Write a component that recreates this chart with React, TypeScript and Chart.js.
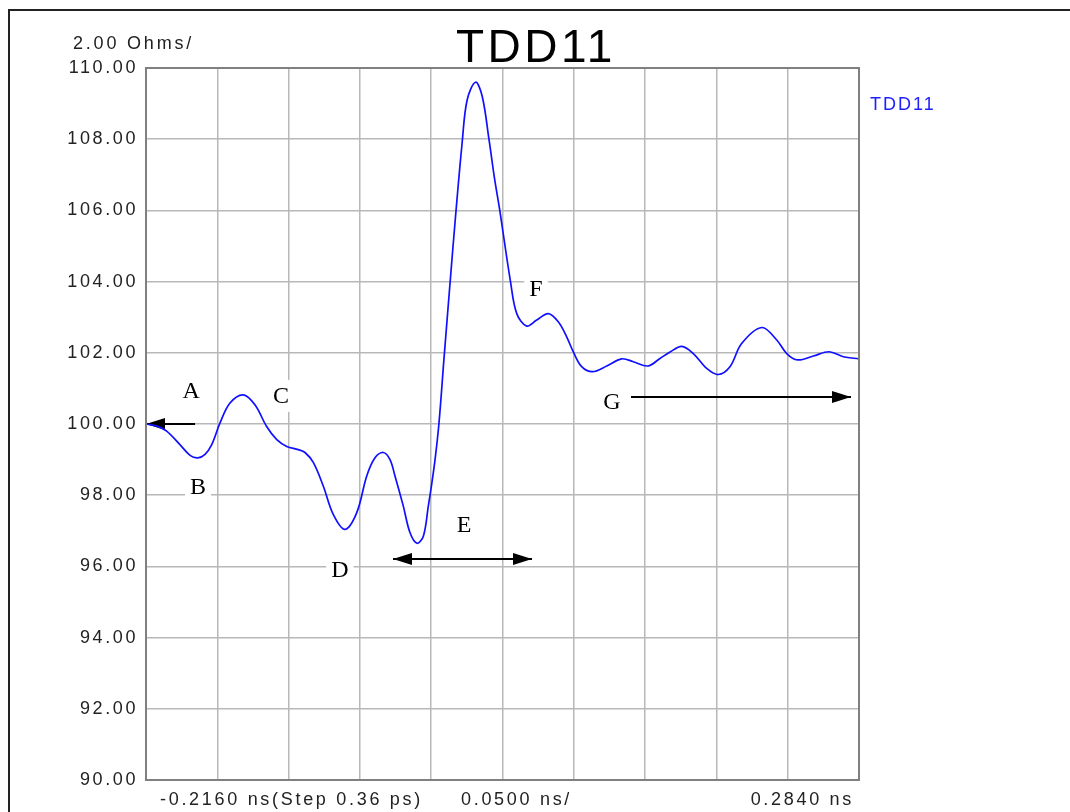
import React, { useEffect, useRef } from 'react';
import { Chart, registerables } from 'chart.js';

Chart.register(...registerables);

// ---- data (time in ns, impedance in Ohms) ----
const timeNs = [
  -0.216, -0.2083, -0.2015, -0.1922, -0.1851, -0.1797, -0.1746, -0.1699, -0.1641, -0.1571,
  -0.1478, -0.1396, -0.1314, -0.1243, -0.1173, -0.1092, -0.1045, -0.0987, -0.0917, -0.0847,
  -0.0765, -0.0682, -0.0612, -0.0554, -0.0496, -0.0449, -0.0414, -0.0356, -0.0309, -0.026,
  -0.0215, -0.018, -0.0157, -0.0133, -0.0106, -0.0071, -0.0025, 0.001, 0.0057, 0.0092,
  0.0151, 0.0198, 0.0245, 0.0284, 0.0319, 0.0396, 0.044, 0.051, 0.058,
  0.0661, 0.0731, 0.079, 0.0836, 0.0895, 0.0971, 0.1071, 0.1176, 0.1257, 0.136,
  0.1444, 0.1515, 0.1597, 0.1678, 0.1772, 0.1853, 0.1935, 0.2017, 0.2158, 0.2263,
  0.2333, 0.2409, 0.252, 0.263, 0.273, 0.284,
];
const impedanceOhm = [
  100.0, 99.94, 99.8, 99.42, 99.12, 99.05, 99.15, 99.42, 100.03, 100.59,
  100.82, 100.54, 99.93, 99.56, 99.37, 99.28, 99.2, 98.92, 98.26, 97.46,
  97.04, 97.51, 98.54, 99.05, 99.2, 99.0, 98.54, 97.7, 96.95, 96.65,
  96.85, 97.7, 98.3, 99.0, 100.0, 101.8, 104.1, 105.8, 107.9, 109.1,
  109.6, 109.2, 108.0, 106.9, 106.05, 104.0, 103.1, 102.75, 102.92,
  103.1, 102.87, 102.45, 102.03, 101.61, 101.47, 101.63, 101.83, 101.75, 101.63,
  101.84, 102.02, 102.18, 101.98, 101.56, 101.39, 101.61, 102.26, 102.71, 102.36,
  101.98, 101.8, 101.91, 102.03, 101.89, 101.83,
];

const Y_MIN = 90;
const Y_MAX = 110;
const Y_STEP = 2;
const X_START = -0.216;
const X_END = 0.284;
const X_STEP = 0.05;

const chartTitle = 'TDD11';
const seriesName = 'TDD11';
const yUnitLabel = '2.00 Ohms/';
const xFooterLabels = ['-0.2160 ns(Step 0.36 ps)', '0.0500 ns/', '0.2840 ns'];

// annotation letters (data coordinates)
const markerLetters = ['A', 'B', 'C', 'D', 'E', 'F', 'G'];
const markerTimeNs = [-0.1844, -0.1795, -0.1213, -0.08, 0.007, 0.0575, 0.1108];
const markerOhm = [100.93, 98.23, 100.79, 95.9, 97.16, 103.79, 100.62];

// annotation arrows (data coordinates)
const arrowStartNs = [-0.1816, -0.0428, 0.1241];
const arrowEndNs = [-0.216, 0.0547, 0.2784];
const arrowOhm = [100.0, 96.21, 100.76];
const arrowBothEnds = [false, true, false];

const SANS = '"Liberation Sans", Arial, sans-serif';
const SERIF = '"Liberation Serif", "Times New Roman", serif';

function arrowHead(ctx: CanvasRenderingContext2D, tipX: number, tipY: number, dir: number) {
  const len = 19;
  const half = 6;
  ctx.beginPath();
  ctx.moveTo(tipX, tipY);
  ctx.lineTo(tipX - dir * len, tipY - half);
  ctx.lineTo(tipX - dir * len, tipY + half);
  ctx.closePath();
  ctx.fill();
}

const decorPlugin = {
  id: 'tddDecor',
  beforeDraw(chart: any) {
    const ctx = chart.ctx as any;
    ctx.fillStyle = '#ffffff';
    ctx.fillRect(0, 0, chart.width, chart.height);
    ctx.letterSpacing = '2.6px';
  },
  beforeDatasetsDraw(chart: any) {
    const ctx = chart.ctx as any;
    const xs = chart.scales.x;
    const ys = chart.scales.y;
    ctx.save();
    ctx.letterSpacing = '0px';
    ctx.font = `24px ${SERIF}`;
    ctx.textAlign = 'center';
    ctx.textBaseline = 'middle';
    markerLetters.forEach((ch, i) => {
      const px = xs.getPixelForValue(markerTimeNs[i]);
      const py = ys.getPixelForValue(markerOhm[i]);
      const w = ctx.measureText(ch).width + 10;
      ctx.fillStyle = '#ffffff';
      ctx.fillRect(px - w / 2, py - 16, w, 32);
      ctx.fillStyle = '#000000';
      ctx.fillText(ch, px, py + 1);
    });
    ctx.strokeStyle = '#000000';
    ctx.fillStyle = '#000000';
    ctx.lineWidth = 2;
    arrowStartNs.forEach((s, i) => {
      const x1 = xs.getPixelForValue(s);
      const x2 = xs.getPixelForValue(arrowEndNs[i]);
      const y = ys.getPixelForValue(arrowOhm[i]);
      ctx.beginPath();
      ctx.moveTo(x1, y);
      ctx.lineTo(x2, y);
      ctx.stroke();
      const dir = x2 > x1 ? 1 : -1;
      arrowHead(ctx, x2, y, dir);
      if (arrowBothEnds[i]) arrowHead(ctx, x1, y, -dir);
    });
    ctx.restore();
  },
  afterDraw(chart: any) {
    const ctx = chart.ctx as any;
    const a = chart.chartArea;
    ctx.save();
    // plot frame
    ctx.strokeStyle = '#808080';
    ctx.lineWidth = 2;
    ctx.strokeRect(a.left, a.top, a.right - a.left, a.bottom - a.top);
    // outer frame
    ctx.strokeStyle = '#222222';
    ctx.lineWidth = 2;
    ctx.beginPath();
    ctx.moveTo(9, chart.height);
    ctx.lineTo(9, 10);
    ctx.lineTo(chart.width, 10);
    ctx.stroke();

    // title
    ctx.fillStyle = '#000000';
    ctx.textBaseline = 'alphabetic';
    ctx.textAlign = 'left';
    ctx.letterSpacing = '3.5px';
    ctx.font = `46px ${SANS}`;
    ctx.fillText(chartTitle, 456, 62);

    // unit label
    ctx.letterSpacing = '2.8px';
    ctx.font = `18px ${SANS}`;
    ctx.fillStyle = '#222222';
    ctx.fillText(yUnitLabel, 73, 49);

    // legend
    ctx.letterSpacing = '2px';
    ctx.font = `18px ${SANS}`;
    ctx.fillStyle = '#2020ff';
    ctx.fillText(seriesName, 870, 110);

    // footer labels
    ctx.letterSpacing = '2.7px';
    ctx.font = `18px ${SANS}`;
    ctx.fillStyle = '#222222';
    ctx.textAlign = 'left';
    ctx.fillText(xFooterLabels[0], a.left + 14, 805);
    ctx.fillText(xFooterLabels[1], 461, 805);
    ctx.textAlign = 'right';
    ctx.fillText(xFooterLabels[2], a.right - 5, 805);
    ctx.restore();
  },
};

export default function App() {
  const ref = useRef<HTMLCanvasElement | null>(null);
  useEffect(() => {
    if (!ref.current) return;
    const chart = new Chart(ref.current, {
      type: 'line',
      data: {
        datasets: [
          {
            label: seriesName,
            data: timeNs.map((t, i) => ({ x: t, y: impedanceOhm[i] })),
            borderColor: '#1010ff',
            borderWidth: 1.7,
            pointRadius: 0,
            fill: false,
            tension: 0.35,
          },
        ],
      },
      options: {
        animation: false,
        responsive: false,
        devicePixelRatio: 1,
        layout: { padding: { left: 0, right: 211, top: 68, bottom: 32 } },
        plugins: { legend: { display: false }, title: { display: false }, tooltip: { enabled: false } },
        scales: {
          x: {
            type: 'linear',
            min: X_START,
            max: X_END,
            afterBuildTicks: (s: any) => {
              const ticks = [];
              for (let k = 0; k <= Math.round((X_END - X_START) / X_STEP); k++) {
                ticks.push({ value: X_START + k * X_STEP });
              }
              s.ticks = ticks;
            },
            afterFit: (s: any) => {
              s.height = 0;
            },
            ticks: { display: false },
            grid: { color: '#b8b8b8', lineWidth: 1.5, drawTicks: false },
            border: { display: false },
          },
          y: {
            type: 'linear',
            min: Y_MIN,
            max: Y_MAX,
            afterFit: (s: any) => {
              s.width = 146;
            },
            ticks: {
              stepSize: Y_STEP,
              padding: 8,
              color: '#222222',
              font: { family: SANS, size: 18 },
              callback: (v: any) => Number(v).toFixed(2),
            },
            grid: { color: '#b8b8b8', lineWidth: 1.5, drawTicks: false },
            border: { display: false },
          },
        },
      },
      plugins: [decorPlugin],
    } as any);
    return () => chart.destroy();
  }, []);
  return (
    <div style={{ position: 'fixed', left: 0, top: 0, width: 1070, height: 812, background: '#fff' }}>
      <canvas ref={ref} width={1070} height={812} style={{ display: 'block' }} />
    </div>
  );
}
